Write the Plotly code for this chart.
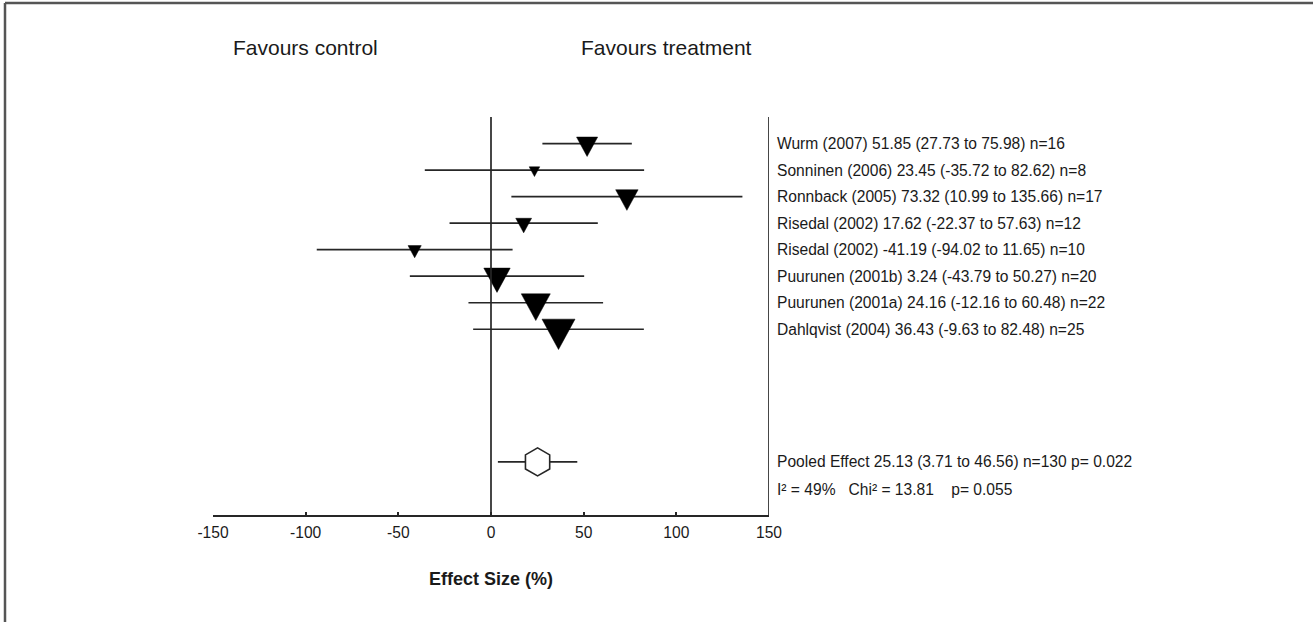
import plotly.graph_objects as go

# ---------------- data ----------------
studies = ["Wurm (2007)", "Sonninen (2006)", "Ronnback (2005)", "Risedal (2002)",
           "Risedal (2002)", "Puurunen (2001b)", "Puurunen (2001a)", "Dahlqvist (2004)"]
effect = [51.85, 23.45, 73.32, 17.62, -41.19, 3.24, 24.16, 36.43]
ci_low = [27.73, -35.72, 10.99, -22.37, -94.02, -43.79, -12.16, -9.63]
ci_high = [75.98, 82.62, 135.66, 57.63, 11.65, 50.27, 60.48, 82.48]
n_subj = [16, 8, 17, 12, 10, 20, 22, 25]

pooled_effect = 25.13
pooled_low = 3.71
pooled_high = 46.56
pooled_n = 130
pooled_p = "0.022"
i2 = "49%"
chi2 = "13.81"
chi2_p = "0.055"

tick_vals = [-150, -100, -50, 0, 50, 100, 150]
tick_text = ["-150", "-100", "-50", "0", "50", "100", "150"]

# ---------------- layout constants ----------------
W, H = 1313, 622
ML, MR, MT, MB = 213, 544, 117, 107
X_RANGE = (-150, 150)
Y_MAX = 15
plot_w = W - ML - MR
plot_h = H - MT - MB
px_x = plot_w / (X_RANGE[1] - X_RANGE[0])   # pixels per x unit
px_y = plot_h / Y_MAX                       # pixels per row

rows = [i + 1 for i in range(len(studies))]
pooled_row = len(studies) + 5
stats_row = pooled_row + 1

FONT = "Liberation Sans, Arial, sans-serif"
INK = "#1a1a1a"
LINE = "#262626"
LW = 1.7
LABEL_SIZE = 15.6

fig = go.Figure()

# confidence intervals
cx, cy = [], []
for lo, hi, r in zip(ci_low, ci_high, rows):
    cx += [lo, hi, None]
    cy += [r, r, None]
fig.add_trace(go.Scatter(x=cx, y=cy, mode="lines",
                         line=dict(color=LINE, width=LW),
                         hoverinfo="skip", showlegend=False))

# study markers: downward triangles sized by n
tx, ty = [], []
for e, r, n in zip(effect, rows, n_subj):
    w = 1.32 * n
    h = 0.92 * w
    hw = (w / 2) / px_x
    up = (h / 3) / px_y
    dn = (2 * h / 3) / px_y
    tx += [e - hw, e + hw, e, e - hw, None]
    ty += [r - up, r - up, r + dn, r - up, None]
fig.add_trace(go.Scatter(x=tx, y=ty, mode="lines", fill="toself",
                         fillcolor="black", line=dict(color="black", width=0.5),
                         hoverinfo="skip", showlegend=False))

# pooled effect
fig.add_trace(go.Scatter(x=[pooled_low, pooled_high], y=[pooled_row, pooled_row],
                         mode="lines", line=dict(color=LINE, width=LW),
                         hoverinfo="skip", showlegend=False))
fig.add_trace(go.Scatter(x=[pooled_effect], y=[pooled_row], mode="markers",
                         marker=dict(symbol="hexagon", size=28, color="white",
                                     line=dict(color=LINE, width=1.6)),
                         hoverinfo="skip", showlegend=False))

# reference line at 0 and right frame line at 150
fig.add_shape(type="line", xref="x", yref="paper", x0=0, x1=0, y0=0, y1=1,
              line=dict(color=LINE, width=LW))
fig.add_shape(type="line", xref="x", yref="paper", x0=X_RANGE[1], x1=X_RANGE[1],
              y0=0, y1=1, line=dict(color=LINE, width=LW))

# picture frame (top and left edges)
top_px, left_px = 3, 5
fig.add_shape(type="line", xref="paper", yref="paper",
              x0=(left_px - ML) / plot_w, x1=(W - ML) / plot_w,
              y0=1 + (MT - top_px) / plot_h, y1=1 + (MT - top_px) / plot_h,
              line=dict(color="#555555", width=2.5))
fig.add_shape(type="line", xref="paper", yref="paper",
              x0=(left_px - ML) / plot_w, x1=(left_px - ML) / plot_w,
              y0=1 + (MT - top_px) / plot_h, y1=-(MB + 5) / plot_h,
              line=dict(color="#555555", width=2.5))

annotations = []
for s, e, lo, hi, n, r in zip(studies, effect, ci_low, ci_high, n_subj, rows):
    annotations.append(dict(
        x=X_RANGE[1], y=r, xref="x", yref="y", xanchor="left", yanchor="middle",
        xshift=6, showarrow=False,
        text=f"{s} {e:.2f} ({lo:.2f} to {hi:.2f}) n={n}",
        font=dict(family=FONT, size=LABEL_SIZE, color=INK)))
annotations.append(dict(
    x=X_RANGE[1], y=pooled_row, xref="x", yref="y", xanchor="left", yanchor="middle",
    xshift=6, showarrow=False,
    text=f"Pooled Effect {pooled_effect:.2f} ({pooled_low:.2f} to {pooled_high:.2f}) n={pooled_n} p= {pooled_p}",
    font=dict(family=FONT, size=LABEL_SIZE, color=INK)))
nb = "\u00a0"
annotations.append(dict(
    x=X_RANGE[1], y=stats_row, xref="x", yref="y", xanchor="left", yanchor="middle",
    xshift=6, yshift=-1, showarrow=False,
    text=f"I\u00b2 = {i2}{nb*2} Chi\u00b2 = {chi2}{nb*3} p= {chi2_p}",
    font=dict(family=FONT, size=LABEL_SIZE, color=INK)))

# direction headers
hdr_y = 1 + (MT - 48) / plot_h
annotations.append(dict(x=(305 - ML) / plot_w, y=hdr_y, xref="paper", yref="paper",
                        xanchor="center", yanchor="middle", showarrow=False,
                        text="Favours control",
                        font=dict(family=FONT, size=21, color=INK)))
annotations.append(dict(x=(666 - ML) / plot_w, y=hdr_y, xref="paper", yref="paper",
                        xanchor="center", yanchor="middle", showarrow=False,
                        text="Favours treatment",
                        font=dict(family=FONT, size=21, color=INK)))

fig.update_layout(
    width=W, height=H,
    margin=dict(l=ML, r=MR, t=MT, b=MB),
    paper_bgcolor="white", plot_bgcolor="white",
    showlegend=False,
    annotations=annotations,
    xaxis=dict(range=list(X_RANGE), tickmode="array", tickvals=tick_vals,
               ticktext=tick_text, ticks="inside", ticklen=3, tickwidth=LW,
               tickcolor=LINE, showline=True, linecolor=LINE, linewidth=LW,
               showgrid=False, zeroline=False, ticklabelstandoff=2,
               tickfont=dict(family=FONT, size=LABEL_SIZE, color=INK),
               title=dict(text="<b>Effect Size (%)</b>", standoff=33,
                          font=dict(family=FONT, size=18, color=INK)),
               fixedrange=True),
    yaxis=dict(range=[Y_MAX, 0], visible=False, fixedrange=True),
)

fig.write_html("out.html", config={"displayModeBar": False},
               post_script="document.body.style.margin='0';document.body.style.overflow='hidden';")
